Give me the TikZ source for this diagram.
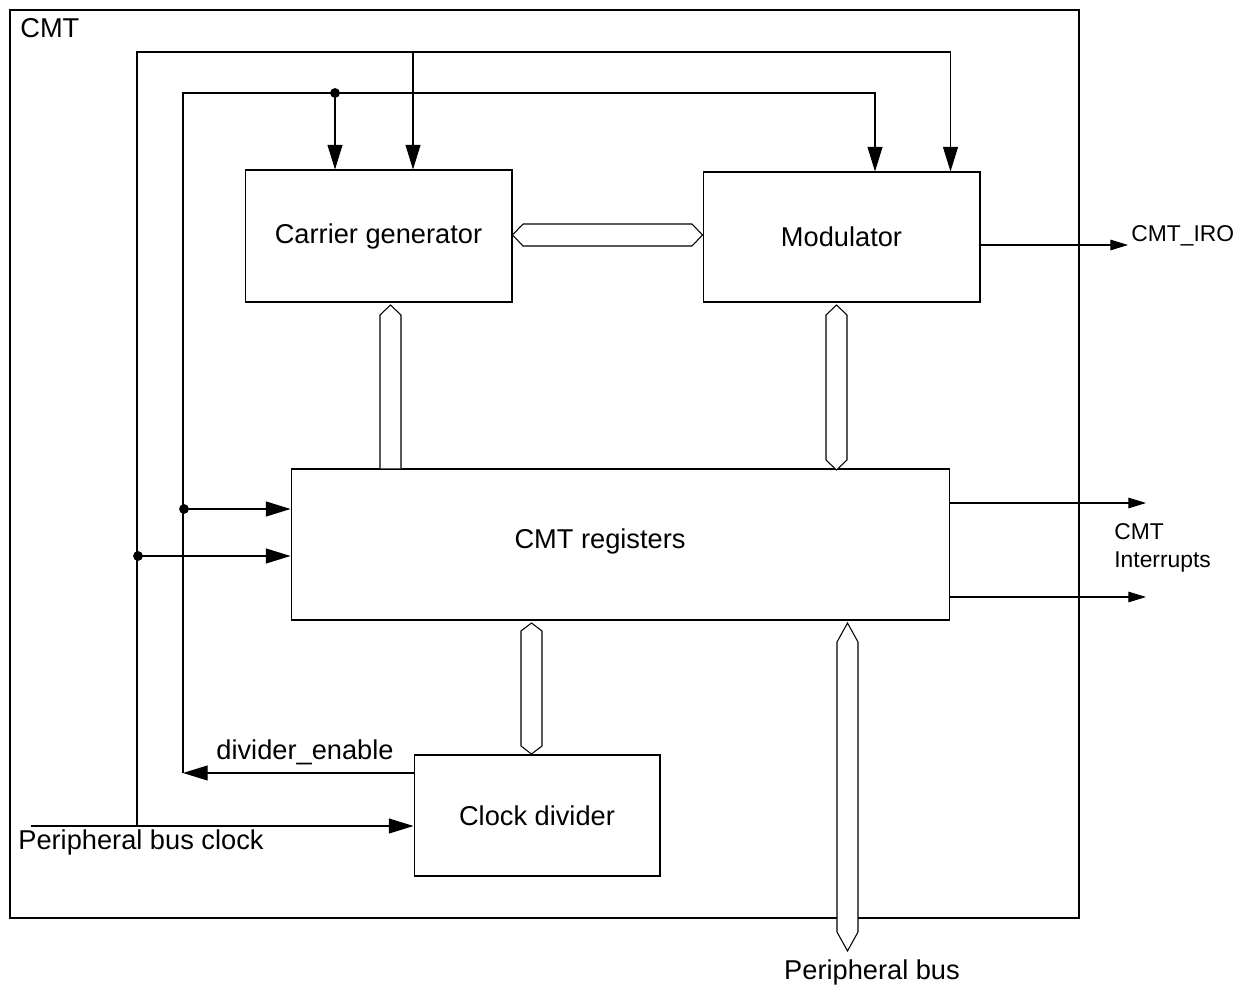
\documentclass[tikz,border=0pt]{standalone}
\usepackage{fontspec}
\setmainfont{Liberation Sans}
\usetikzlibrary{positioning}
\usetikzlibrary{calc}
\usetikzlibrary{arrows.meta}
\tikzset{blk/.style = {draw, line width=0.6pt, inner sep=0, font=\fontsize{15.5}{18}\selectfont}}
\tikzset{sig/.style = {line width=0.6pt, -{Triangle[length=14pt,width=8.5pt]}}}
\tikzset{sigsmall/.style = {line width=0.6pt, -{Triangle[length=10pt,width=6pt]}}}
\tikzset{bus/.style = {draw, fill=white, line width=0.6pt}}
\tikzset{lbl/.style = {inner sep=0, font=\fontsize{15.5}{18}\selectfont}}
\tikzset{lblsmall/.style = {inner sep=0, font=\fontsize{13}{15.5}\selectfont}}
% vertical bus: tip, tip, point length
\newcommand{\vbus}[3]{\draw[bus] (#1) -- ($(#1)+(10.5,#3)$) -- ($(#2)+(10.5,-#3)$) -- (#2) -- ($(#2)+(-10.5,-#3)$) -- ($(#1)+(-10.5,#3)$) -- cycle;}

\begin{document}
\begin{tikzpicture}[x=0.02cm, y=-0.02cm]
    \useasboundingbox (0,0) rectangle (1238,986);
    \draw[line width=0.6pt] (10,10) rectangle (1079,918);
    \node[lbl, anchor=west] (cmtlbl) at (20,28) {CMT};

    \node[blk, minimum width=5.34cm, minimum height=2.64cm] (cg) at (378.5,236) {Carrier generator};
    \node[blk, minimum width=5.54cm, minimum height=2.6cm] (mod) at (841.5,237) {Modulator};
    \node[blk, minimum width=13.18cm, minimum height=3.02cm] (regs) at (620.5,544.5) {};
    \node[lbl] (regslbl) at (600,541) {CMT registers};
    \node[blk, minimum width=4.92cm, minimum height=2.42cm] (clkdiv) at (537,815.5) {Clock divider};

    \coordinate (clkin) at (31,826);
    \coordinate (clkup) at (137,826);
    \coordinate (clktop) at (137,52);
    \coordinate (cgin) at ($(cg.north)+(34.5,0)$);
    \coordinate (entop) at (183,93);
    \coordinate (enbot) at (183,773);
    \coordinate (j1) at (335,93);
    \coordinate (j2) at (184,509);
    \coordinate (j3) at (138,556);
    \coordinate (iro) at (1128,245);
    \coordinate (irq1) at (1146,503);
    \coordinate (irq2) at (1146,597);

    % peripheral bus clock
    \draw[sig] (clkin) -- (clkin -| clkdiv.west);
    \draw[sig] (clkup) -- (clktop) -| ($(mod.north east)+(-30,0)$);
    \draw[sig] (cgin |- clktop) -- (cgin);
    \draw[sig] (j3) -- (j3 -| regs.west);

    % divider_enable
    \draw[sig] (clkdiv.west |- enbot) -- (enbot);
    \draw[sig] (enbot) -- (entop) -| ($(mod.north)+(33.5,0)$);
    \draw[sig] (j1) -- (j1 |- cg.north);
    \draw[sig] (j2) -- (j2 -| regs.west);
    \node[lbl] (enlbl) at (305,752) {divider\_enable};
    \node[lbl, anchor=west] (pbclbl) at (18,842) {Peripheral bus clock};

    \foreach \p in {j1, j2, j3} {
        \fill (\p) circle (2.8pt); % junction dot
    }

    % outputs
    \draw[sigsmall] (iro -| mod.east) -- (iro);
    \node[lblsmall, anchor=west] (irolbl) at (1131,236) {CMT\_IRO};
    \draw[sigsmall] (irq1 -| regs.east) -- (irq1);
    \draw[sigsmall] (irq2 -| regs.east) -- (irq2);
    \node[lblsmall, anchor=west, align=left] (irqlbl) at (1114,548) {CMT\\Interrupts};

    % buses
    \coordinate (cgbus) at (390.5,305);
    \draw[bus] ($(cgbus |- regs.north)+(-10.5,0)$) -- ($(cgbus)+(-10.5,10)$) -- (cgbus) -- ($(cgbus)+(10.5,10)$) -- ($(cgbus |- regs.north)+(10.5,0)$);
    \draw[bus] (cg.east |- 0,235) -- (523,224) -- (692,224) -- (mod.west |- 0,235) -- (692,246) -- (523,246) -- cycle;
    \vbus{836.5,305}{836.5,470}{10}
    \vbus{531.5,623}{531.5,754}{8}
    \vbus{847.5,623}{847.5,951}{19}
    \node[lbl] (pblbl) at (872,972) {Peripheral bus};
\end{tikzpicture}
\end{document}
